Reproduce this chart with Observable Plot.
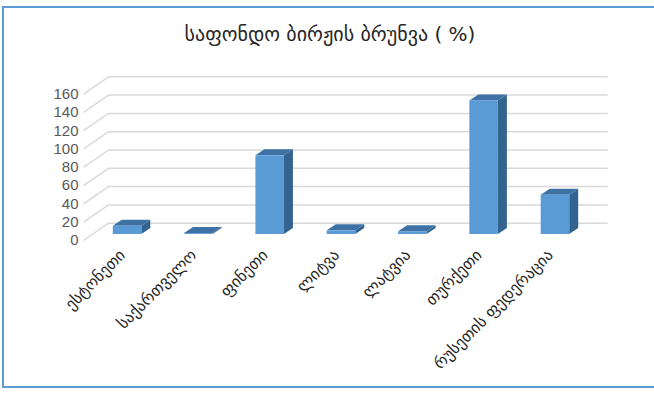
<!DOCTYPE html>
<html>
<head>
<meta charset="utf-8">
<script src="https://cdn.jsdelivr.net/npm/d3@7"></script>
<script src="https://cdn.jsdelivr.net/npm/@observablehq/plot@0.6"></script>
<style>
  html, body { margin: 0; padding: 0; background: #fff; overflow: hidden; }
  #wrap { position: relative; width: 654px; height: 394px; }
  #border { position: absolute; left: 2px; top: 6px; width: 670px; height: 378px;
            border: 2px solid #5b9bd5; border-right: none; box-sizing: content-box; }
  #title { position: absolute; left: 0; width: 660px; top: 22px; text-align: center;
           font-family: "DejaVu Sans", sans-serif; font-size: 20px; color: #262626; }
  #chart { position: absolute; left: 0; top: 0; }
</style>
</head>
<body>
<div id="wrap">
  <div id="border"></div>
  <div id="title">საფონდო ბირჟის ბრუნვა ( %)</div>
  <div id="chart"></div>
</div>
<script>
const categories = ["ესტონეთი", "საქართველო", "ფინეთი", "ლიტვა", "ლატვია", "თურქეთი", "რუსეთის ფედერაცია"];
const values = [9, 1, 86, 4, 3, 146, 43];
const yTicks = [0, 20, 40, 60, 80, 100, 120, 140, 160];

// 3D projection offsets (data units)
const half = 0.2;          // half bar width
const depX = 0.126;        // bar depth, x
const depY = 6.56;         // bar depth, y
const wallX0 = -0.618, wallX1 = -0.267, wallRight = 6.74;
const frontDY = -6.56, backDY = 12.35;

const bars = categories.map((c, i) => ({c, i, v: values[i]}));
const sideFaces = bars.flatMap(d => [
  {c: d.c, x: d.i + half, y1: 0, y2: d.v},
  {c: d.c, x: d.i + half + depX, y1: depY, y2: d.v + depY}
]);
const topFaces = bars.flatMap(d => [
  {c: d.c, y: d.v, x1: d.i - half, x2: d.i + half},
  {c: d.c, y: d.v + depY, x1: d.i - half + depX, x2: d.i + half + depX}
]);
const grid = yTicks.map(t => ({t}));

const chart = Plot.plot({
  width: 654,
  height: 394,
  marginLeft: 70,
  marginRight: 42,
  marginTop: 87.6,
  marginBottom: 160,
  x: {domain: [-0.8, 6.8], axis: null},
  y: {domain: [0, 160], axis: null},
  style: {background: "transparent", overflow: "visible"},
  marks: [
    Plot.ruleY(grid, {y: d => d.t + backDY, x1: wallX1, x2: wallRight, stroke: "#d9d9d9", strokeWidth: 1.5}),
    Plot.link(grid, {x1: wallX0, y1: d => d.t + frontDY, x2: wallX1, y2: d => d.t + backDY, stroke: "#d9d9d9", strokeWidth: 1.5}),
    Plot.text(grid, {x: wallX0, y: d => d.t + frontDY, text: d => String(d.t), textAnchor: "end", dx: -5,
      fill: "#595959", fontSize: 15, fontFamily: "Liberation Sans, Arial, sans-serif"}),
    Plot.areaY(sideFaces, {x: "x", y1: "y1", y2: "y2", z: "c", fill: "#33638f", curve: "linear"}),
    Plot.areaX(topFaces, {y: "y", x1: "x1", x2: "x2", z: "c", fill: "#3e72a4", curve: "linear"}),
    Plot.rectY(bars, {x1: d => d.i - half, x2: d => d.i + half, y1: 0, y2: "v", fill: "#5b9bd5"}),
    Plot.text(bars, {x: "i", y: 0, text: "c", rotate: -45, textAnchor: "end", dx: -5, dy: 18,
      fill: "#262626", fontSize: 16, fontFamily: "DejaVu Sans, sans-serif"})
  ]
});
document.getElementById("chart").appendChild(chart);
</script>
</body>
</html>
